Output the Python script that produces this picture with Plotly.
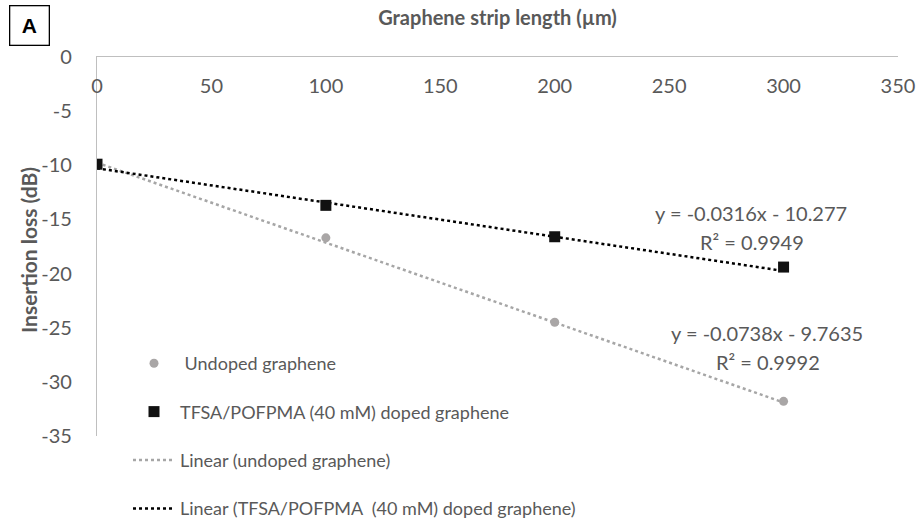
import plotly.graph_objects as go

# Data
lengths = [0, 100, 200, 300]
undoped = [-9.9, -16.7, -24.5, -31.8]
doped = [-9.9, -13.7, -16.6, -19.4]

# Trendline coefficients (as displayed)
undoped_slope, undoped_icpt, undoped_r2 = -0.0738, -9.7635, 0.9992
doped_slope, doped_icpt, doped_r2 = -0.0316, -10.277, 0.9949

x_ticks = [0, 50, 100, 150, 200, 250, 300, 350]
y_ticks = [0, -5, -10, -15, -20, -25, -30, -35]

FONT = "Lato"
GRAY_TXT = "#595959"
AXIS = "#bfbfbf"

fit_x = [lengths[0], lengths[-1]]

fig = go.Figure()
fig.add_trace(go.Scatter(
    x=fit_x, y=[undoped_slope * v + undoped_icpt for v in fit_x], mode="lines",
    name="Linear (undoped graphene)",
    line=dict(color="#a6a6a6", width=2.5, dash="dot"), legendgroup="c", legendrank=3))
fig.add_trace(go.Scatter(
    x=fit_x, y=[doped_slope * v + doped_icpt for v in fit_x], mode="lines",
    name="Linear (TFSA/POFPMA  (40 mM) doped graphene)",
    line=dict(color="#000000", width=2.5, dash="dot"), legendgroup="d", legendrank=4))
fig.add_trace(go.Scatter(
    x=lengths, y=undoped, mode="markers", name=" Undoped graphene",
    marker=dict(symbol="circle", size=9, color="#a9a6a6"),
    legendgroup="a", legendrank=1))
fig.add_trace(go.Scatter(
    x=lengths, y=doped, mode="markers", name="TFSA/POFPMA (40 mM) doped graphene",
    marker=dict(symbol="square", size=11, color="#111111"),
    legendgroup="b", legendrank=2))

W, H = 920, 525
L, R, T, B = 97, 898, 57, 436


def px_x(px):
    return (px - L) / (R - L)


def px_y(py):
    return (B - py) / (B - T)


annos = [
    (751, 213, f"y = {doped_slope}x - {abs(doped_icpt)}"),
    (752, 242, f"R² = {doped_r2}"),
    (767, 333, f"y = {undoped_slope}x - {abs(undoped_icpt)}"),
    (768, 362, f"R² = {undoped_r2}"),
]
for px, py, txt in annos:
    fig.add_annotation(x=px_x(px), y=px_y(py), xref="paper", yref="paper",
                       text=txt, showarrow=False, font=dict(family=FONT, size=20, color=GRAY_TXT),
                       xanchor="center", yanchor="middle")

# Y-axis title
fig.add_annotation(x=px_x(28), y=px_y(250), xref="paper", yref="paper",
                   text="<b>Insertion loss (dB)</b>", textangle=-90, showarrow=False,
                   font=dict(family=FONT, size=21, color=GRAY_TXT),
                   xanchor="center", yanchor="middle")

# Panel label
fig.add_annotation(x=px_x(29.5), y=px_y(25.5), xref="paper", yref="paper",
                   text="<b>A</b>", showarrow=False, width=38, height=38,
                   bordercolor="#000000", borderwidth=1.3, borderpad=0,
                   font=dict(family="Liberation Sans", size=21, color="#000000"),
                   xanchor="center", yanchor="middle")

fig.update_layout(
    width=W, height=H,
    margin=dict(l=L, r=W - R, t=T, b=H - B, autoexpand=False),
    paper_bgcolor="white", plot_bgcolor="white",
    font=dict(family=FONT, color=GRAY_TXT),
    showlegend=True,
    legend=dict(xref="container", yref="container", x=128 / W, y=1 - 345 / H,
                xanchor="left", yanchor="top",
                font=dict(family=FONT, size=18, color=GRAY_TXT), itemwidth=42,
                tracegroupgap=22, bgcolor="rgba(0,0,0,0)", traceorder="grouped"),
    xaxis=dict(range=[0, 350], tickvals=x_ticks, ticktext=[str(v) for v in x_ticks],
               side="top", ticklabelposition="inside", ticklabeloverflow="allow",
               showgrid=False, zeroline=False, showline=True, linecolor=AXIS, linewidth=1.3,
               ticks="", ticklabelstandoff=23,
               tickfont=dict(family=FONT, size=20, color=GRAY_TXT),
               title=dict(text="<b>Graphene strip length (µm)</b>", standoff=42,
                          font=dict(family=FONT, size=20, color=GRAY_TXT))),
    yaxis=dict(range=[-35, 0], tickvals=y_ticks, ticktext=[str(v) for v in y_ticks],
               showgrid=False, zeroline=False, ticklabeloverflow="allow",
               showline=True, linecolor=AXIS, linewidth=1.3, ticks="", ticklabelstandoff=20,
               tickfont=dict(family=FONT, size=20, color=GRAY_TXT)),
)

fig.write_html("out.html")
